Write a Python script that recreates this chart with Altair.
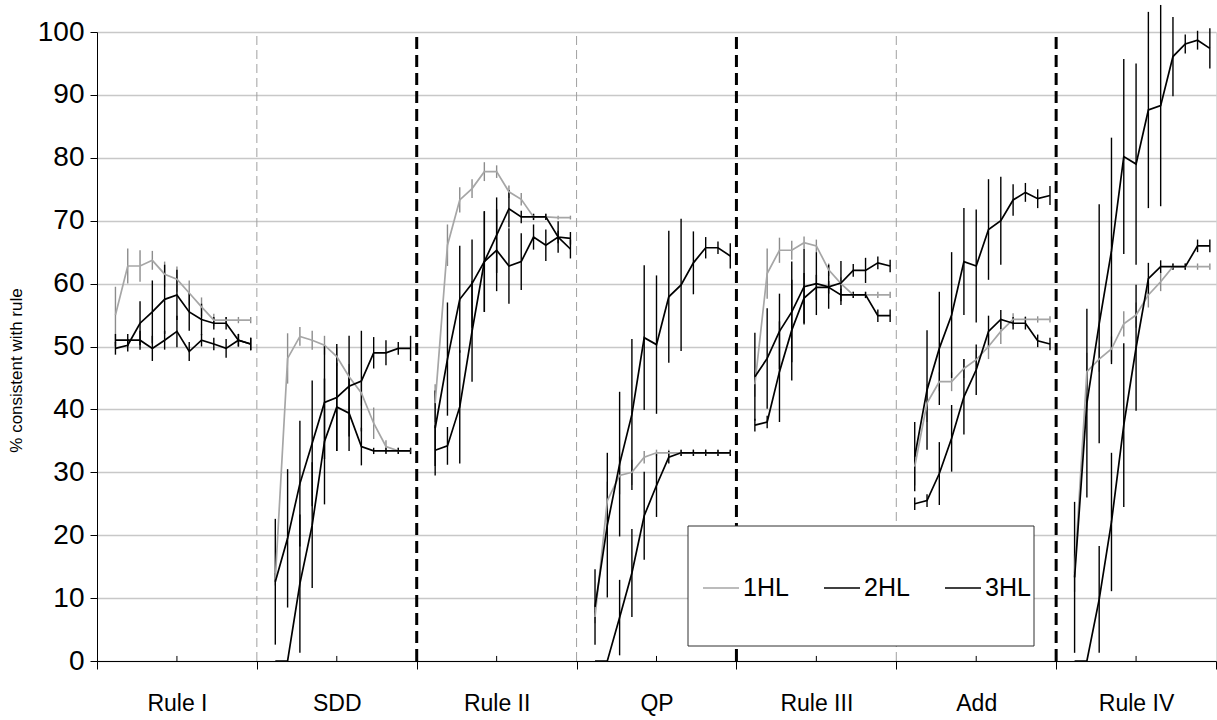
import altair as alt
import pandas as pd

GROUPS = ["Rule I", "SDD", "Rule II", "QP", "Rule III", "Add", "Rule IV"]
SERIES = ["1HL", "2HL", "3HL"]

# 12 points per group (slot 0 of each 13-slot group is empty)
HL1 = [
    [55.0, 62.8, 62.8, 63.7, 61.5, 60.7, 58.5, 56.3, 54.2, 54.2, 54.2, 54.2],
    [13.0, 48.1, 51.6, 51.0, 50.2, 48.4, 45.2, 42.6, 37.8, 34.1, 33.4, 33.4],
    [41.0, 66.1, 73.3, 75.1, 77.8, 77.8, 74.6, 73.4, 70.6, 70.6, 70.5, 70.5],
    [7.0, 25.5, 29.5, 30.0, 32.4, 33.1, 33.1, 33.1, 33.1, 33.1, 33.1, 33.1],
    [44.0, 61.6, 65.3, 65.3, 66.5, 66.0, 62.2, 60.0, 58.2, 58.2, 58.2, 58.2],
    [30.9, 41.0, 44.4, 44.4, 46.5, 47.9, 50.0, 52.4, 54.3, 54.3, 54.3, 54.3],
    [14.0, 46.0, 48.0, 49.6, 53.6, 55.0, 58.2, 60.3, 62.7, 62.7, 62.7, 62.7],
]
HL1_ERR = [
    [4.5, 2.8, 2.5, 1.5, 2.0, 2.0, 2.0, 1.5, 1.0, 0.5, 0.5, 0.5],
    [1.0, 4.0, 1.5, 1.5, 1.5, 1.5, 2.0, 2.0, 2.5, 1.0, 0.5, 0.5],
    [3.0, 3.3, 2.0, 1.5, 1.5, 1.0, 1.0, 1.0, 0.5, 0.5, 0.3, 0.3],
    [1.0, 3.0, 3.0, 2.0, 1.0, 0.5, 0.5, 0.5, 0.5, 0.5, 0.5, 0.5],
    [2.0, 4.0, 2.0, 1.5, 1.0, 1.0, 1.0, 1.0, 0.5, 0.5, 0.5, 0.5],
    [3.0, 3.0, 1.5, 1.5, 1.5, 1.5, 2.0, 2.0, 1.0, 0.5, 0.5, 0.5],
    [3.0, 3.0, 2.0, 2.0, 2.0, 2.0, 2.0, 1.5, 0.5, 0.5, 0.5, 0.5],
]
HL2 = [
    [49.7, 50.2, 53.7, 55.5, 57.5, 58.2, 55.5, 54.3, 53.7, 53.7, 51.0, 50.4],
    [12.6, 19.5, 28.2, 34.6, 41.1, 41.9, 43.7, 44.5, 49.0, 49.0, 49.7, 49.7],
    [37.0, 48.0, 57.5, 60.0, 63.5, 65.3, 62.8, 63.5, 67.4, 66.1, 67.4, 65.5],
    [8.6, 21.6, 31.3, 39.2, 51.4, 50.3, 57.9, 59.8, 63.3, 65.7, 65.7, 64.4],
    [45.2, 48.1, 52.4, 55.5, 59.5, 60.0, 59.5, 60.1, 62.1, 62.1, 63.3, 62.8],
    [32.5, 43.1, 49.7, 55.0, 63.5, 62.8, 68.6, 70.0, 73.3, 74.5, 73.5, 74.0],
    [13.3, 41.0, 53.6, 65.2, 80.2, 79.0, 87.6, 88.3, 96.1, 98.1, 98.7, 97.4],
]
HL2_ERR = [
    [1.0, 1.0, 3.5, 5.0, 5.5, 4.0, 3.0, 2.5, 1.0, 1.0, 1.0, 1.0],
    [10.0, 11.0, 10.0, 10.0, 9.0, 8.5, 8.0, 8.0, 2.5, 2.0, 1.0, 2.0],
    [6.0, 9.0, 8.5, 7.0, 8.0, 6.5, 6.0, 4.5, 2.0, 2.5, 2.5, 1.5],
    [6.0, 11.5, 11.5, 12.0, 11.5, 11.0, 10.5, 10.5, 5.0, 1.7, 1.0, 2.0],
    [7.0, 8.0, 6.0, 8.0, 6.0, 5.0, 3.5, 3.5, 1.0, 2.0, 1.0, 1.0],
    [5.5, 9.5, 9.0, 10.0, 8.5, 9.0, 8.0, 7.0, 2.5, 1.5, 1.5, 1.5],
    [12.0, 15.0, 19.0, 18.0, 15.5, 16.0, 15.6, 16.0, 6.3, 1.5, 1.5, 3.2],
]
HL3 = [
    [51.0, 51.0, 51.0, 49.7, 51.0, 52.4, 49.2, 51.0, 50.4, 49.7, 51.0, 50.4],
    [0.0, 0.0, 12.3, 21.6, 34.9, 40.4, 39.4, 34.1, 33.4, 33.4, 33.4, 33.4],
    [33.5, 34.2, 40.4, 52.4, 63.5, 67.7, 71.9, 70.6, 70.6, 70.6, 67.4, 67.2],
    [0.0, 0.0, 6.9, 14.0, 23.1, 27.9, 32.4, 33.1, 33.1, 33.1, 33.1, 33.1],
    [37.5, 38.0, 46.0, 52.6, 57.7, 59.4, 59.4, 58.2, 58.2, 58.2, 54.9, 54.9],
    [25.0, 25.5, 29.8, 35.4, 42.0, 46.3, 52.4, 54.3, 53.7, 53.7, 50.9, 50.4],
    [0.0, 0.0, 9.8, 22.1, 37.5, 49.8, 60.8, 62.7, 62.7, 62.7, 66.0, 66.0],
]
HL3_ERR = [
    [1.0, 1.0, 1.5, 2.0, 1.5, 2.5, 1.5, 1.0, 1.0, 1.5, 1.0, 1.0],
    [0.0, 0.0, 11.0, 10.0, 10.0, 7.0, 6.0, 3.0, 0.5, 0.5, 0.5, 0.5],
    [4.0, 3.0, 9.0, 8.0, 8.0, 6.0, 3.0, 1.0, 0.5, 0.5, 1.0, 1.0],
    [0.0, 0.0, 6.0, 7.0, 7.0, 5.0, 1.0, 0.5, 0.5, 0.5, 0.5, 0.5],
    [1.0, 1.0, 8.0, 8.0, 4.0, 2.0, 1.0, 1.0, 0.5, 0.5, 1.0, 1.0],
    [1.0, 1.0, 5.0, 5.3, 6.0, 4.0, 2.5, 1.5, 1.0, 1.0, 1.0, 1.0],
    [0.0, 0.0, 8.5, 11.0, 13.0, 10.0, 2.5, 1.0, 0.5, 0.5, 1.0, 1.0],
]

SLOTS = 13
rows = []
for name, vals, errs in zip(SERIES, [HL1, HL2, HL3], [HL1_ERR, HL2_ERR, HL3_ERR]):
    for g in range(len(GROUPS)):
        for k in range(12):
            v, e = vals[g][k], errs[g][k]
            rows.append({"series": name, "group": GROUPS[g], "x": g * SLOTS + k + 1,
                         "v": v, "lo": v - e, "hi": v + e})
df = pd.DataFrame(rows)

bounds = [g * SLOTS - 0.5 for g in range(len(GROUPS) + 1)]
bdf = pd.DataFrame({"b": bounds[1:-1], "kind": ["light", "heavy"] * 3})
cdf = pd.DataFrame({"c": [g * SLOTS + 6 for g in range(len(GROUPS))]})

FONT = "Liberation Sans"
W, H = 1119, 629
half = 6.5 * W / (len(GROUPS) * SLOTS)

label_expr = "''"
for g in reversed(range(len(GROUPS))):
    label_expr = f"datum.value == {g * SLOTS - 0.5} ? '{GROUPS[g]}' : ({label_expr})"

xscale = alt.Scale(domain=[-0.5, len(GROUPS) * SLOTS - 0.5], nice=False, zero=False)
yscale = alt.Scale(domain=[0, 100], nice=False)

xaxis = alt.Axis(values=bounds, tickSize=8, labelExpr=label_expr, labelOffset=half,
                 labelPadding=34, labelBaseline="middle", labelFontSize=23, labelFont=FONT,
                 labelColor="black", domainColor="black", tickColor="black", grid=False,
                 title=None, labelOverlap=False, labelFlush=False, labelBound=False)
yaxis = alt.Axis(values=list(range(0, 101, 10)), tickSize=7, labelFontSize=28, labelFont=FONT,
                 labelColor="black", domainColor="black", tickColor="black", grid=True,
                 gridColor="#c8c8c8", gridWidth=1.3, title="% consistent with rule",
                 titleFont=FONT, titleFontSize=17, titleFontWeight="normal", titleColor="black",
                 titlePadding=12, labelPadding=6, titleY=338)

base = alt.Chart(df)

light = alt.Chart(bdf).transform_filter("datum.kind == 'light'").mark_rule(
    color="#a0a0a0", strokeWidth=1, strokeDash=[9, 5]).encode(
    x=alt.X("b:Q", scale=xscale, axis=xaxis), y=alt.datum(0, scale=yscale), y2=alt.datum(100))
heavy = alt.Chart(bdf).transform_filter("datum.kind == 'heavy'").mark_rule(
    color="black", strokeWidth=3, strokeDash=[12, 6]).encode(
    x=alt.X("b:Q", scale=xscale), y=alt.datum(0, scale=yscale), y2=alt.datum(100))

err_gray = base.transform_filter("datum.series == '1HL'").mark_rule(
    color="#8c8c8c", strokeWidth=1.4).encode(
    x=alt.X("x:Q", scale=xscale), y=alt.Y("lo:Q", scale=yscale, axis=yaxis), y2="hi:Q")
err_black = base.transform_filter("datum.series != '1HL'").mark_rule(
    color="black", strokeWidth=1.4).encode(
    x=alt.X("x:Q", scale=xscale), y=alt.Y("lo:Q", scale=yscale), y2="hi:Q")

lines = base.mark_line(strokeWidth=1.7).encode(
    x=alt.X("x:Q", scale=xscale),
    y=alt.Y("v:Q", scale=yscale),
    detail="group:N",
    color=alt.Color("series:N",
                    scale=alt.Scale(domain=SERIES, range=["#a6a6a6", "black", "black"]),
                    legend=alt.Legend(orient="none", direction="horizontal", title=None,
                                      legendX=605, legendY=537, padding=0,
                                      symbolType="stroke", symbolSize=1296,
                                      symbolStrokeWidth=1.5, labelFontSize=25,
                                      labelFont=FONT, labelColor="black", labelOffset=3,
                                      columnPadding=32, gridAlign="all")),
    order="x:Q",
)

minor = alt.Chart(cdf).mark_rule(color="black", strokeWidth=1).encode(
    x=alt.X("c:Q", scale=xscale), y=alt.datum(0, scale=yscale), y2=alt.datum(0.8))

box = alt.Chart(cdf).transform_filter("datum.c == 6").mark_rect(
    fill="white", stroke="#303030", strokeWidth=1).encode(
    x=alt.value(591), x2=alt.value(937), y=alt.value(494), y2=alt.value(614))

chart = alt.layer(light, heavy, err_gray, err_black, lines, minor, box).properties(
    width=W, height=H,
    autosize=alt.AutoSizeParams(type="none"),
    padding={"left": 97, "top": 32, "right": 1, "bottom": 59},
).configure_view(strokeWidth=0).configure(background="white")

chart.save("out.html", embed_options={"renderer": "svg", "actions": False})
